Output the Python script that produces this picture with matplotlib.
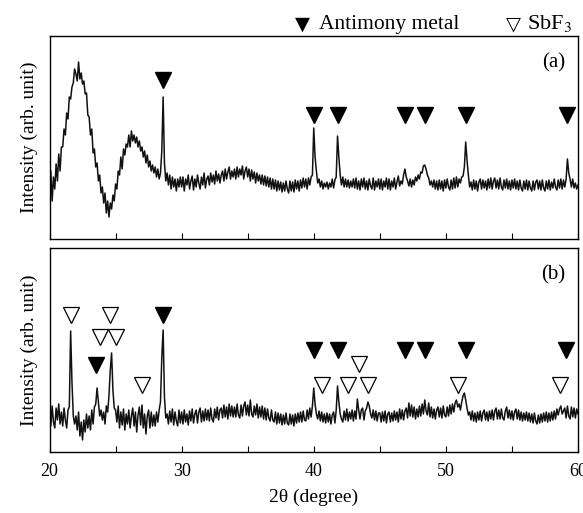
import numpy as np
import matplotlib
matplotlib.use("Agg")
import matplotlib.pyplot as plt

plt.rcParams['font.family'] = ['Liberation Serif', 'DejaVu Sans']
plt.rcParams['mathtext.fontset'] = 'stix'

# 2-theta grid (degrees), 0.1 degree steps from 20 to 60
two_theta = np.linspace(20, 60, 401)

# Panel (a) intensity (arb. unit)
intensity_a = [
    45, 68, 38, 62, 50, 75, 58, 85, 68, 92,
    92, 110, 104, 126, 120, 142, 140, 152, 156, 170,
    165, 158, 177, 160, 166, 155, 158, 145, 146, 124,
    122, 104, 110, 86, 90, 72, 76, 58, 64, 46,
    52, 36, 46, 26, 38, 22, 36, 30, 44, 38,
    55, 50, 68, 64, 82, 70, 90, 84, 95, 92,
    104, 92, 108, 98, 104, 96, 102, 92, 98, 88,
    92, 82, 88, 76, 84, 72, 78, 68, 74, 66,
    72, 62, 70, 60, 66, 88, 142, 76, 58, 66,
    54, 64, 50, 62, 52, 60, 48, 60, 52, 62,
    52, 62, 48, 60, 54, 64, 50, 58, 63, 49,
    60, 52, 64, 56, 50, 62, 54, 66, 51, 60,
    63, 54, 66, 57, 64, 55, 68, 58, 65, 56,
    64, 68, 58, 70, 60, 67, 72, 60, 68, 62,
    70, 60, 72, 62, 70, 64, 73, 60, 68, 72,
    62, 70, 58, 69, 60, 67, 56, 66, 58, 64,
    55, 64, 54, 63, 53, 62, 52, 61, 50, 60,
    50, 59, 48, 58, 49, 57, 47, 56, 48, 58,
    50, 46, 58, 48, 57, 47, 59, 50, 58, 48,
    59, 51, 61, 52, 60, 50, 61, 54, 62, 64,
    111, 82, 68, 56, 60, 52, 58, 50, 56, 52,
    57, 50, 56, 52, 60, 51, 59, 62, 103, 82,
    64, 54, 62, 52, 60, 52, 59, 51, 58, 52,
    60, 51, 61, 50, 58, 49, 60, 52, 61, 50,
    58, 49, 60, 53, 50, 61, 49, 58, 52, 60,
    50, 60, 49, 58, 52, 61, 50, 60, 49, 58,
    52, 61, 50, 57, 63, 53, 58, 55, 64, 70,
    62, 58, 53, 60, 52, 59, 54, 62, 58, 64,
    60, 67, 66, 73, 74, 70, 64, 61, 54, 58,
    52, 59, 50, 58, 49, 59, 50, 58, 48, 59,
    51, 60, 52, 49, 59, 50, 61, 51, 62, 52,
    60, 56, 62, 63, 72, 97, 79, 64, 52, 57,
    49, 59, 50, 58, 48, 57, 60, 50, 59, 51,
    58, 49, 60, 51, 61, 50, 58, 61, 51, 59,
    50, 61, 52, 49, 59, 51, 60, 50, 58, 49,
    59, 51, 60, 50, 58, 49, 59, 51, 48, 58,
    50, 59, 49, 58, 51, 48, 58, 49, 57, 59,
    50, 58, 49, 59, 51, 48, 58, 50, 59, 49,
    57, 51, 60, 52, 49, 59, 51, 60, 50, 59,
    52, 60, 80, 66, 60, 52, 60, 51, 56, 50,
    54,
]

# Panel (b) intensity (arb. unit)
intensity_b = [
    40, 26, 46, 30, 24, 44, 32, 48, 28, 40,
    26, 44, 32, 24, 42, 45, 121, 70, 36, 28,
    36, 22, 40, 16, 30, 12, 32, 20, 38, 24,
    36, 22, 42, 28, 45, 48, 64, 50, 36, 42,
    32, 40, 28, 46, 40, 56, 82, 99, 62, 44,
    42, 30, 46, 24, 40, 27, 43, 22, 38, 28,
    42, 24, 36, 44, 26, 40, 20, 37, 45, 27,
    47, 24, 38, 18, 36, 42, 24, 40, 26, 37,
    26, 40, 30, 42, 50, 95, 122, 55, 34, 38,
    28, 41, 30, 43, 27, 40, 31, 26, 42, 29,
    40, 28, 42, 30, 38, 27, 41, 31, 43, 29,
    38, 42, 29, 40, 44, 30, 41, 31, 43, 32,
    42, 31, 44, 33, 30, 43, 34, 45, 32, 42,
    44, 34, 47, 35, 45, 33, 48, 36, 46, 35,
    45, 35, 48, 37, 34, 47, 36, 46, 50, 37,
    47, 36, 52, 38, 35, 46, 37, 48, 34, 45,
    35, 46, 33, 44, 32, 43, 34, 31, 42, 32,
    30, 40, 28, 39, 29, 38, 27, 37, 28, 39,
    29, 27, 38, 28, 37, 26, 38, 29, 39, 30,
    40, 30, 41, 32, 31, 42, 33, 44, 35, 46,
    64, 48, 38, 33, 41, 31, 40, 30, 38, 29,
    39, 30, 38, 28, 37, 40, 29, 42, 66, 50,
    38, 33, 30, 41, 32, 43, 31, 40, 33, 42,
    31, 41, 33, 53, 42, 33, 42, 44, 32, 41,
    44, 50, 46, 38, 34, 42, 32, 41, 31, 39,
    39, 30, 40, 31, 41, 29, 38, 40, 30, 39,
    31, 41, 32, 40, 30, 43, 33, 42, 32, 41,
    44, 34, 49, 36, 47, 35, 45, 33, 43, 35,
    46, 36, 48, 38, 52, 41, 37, 49, 35, 45,
    34, 43, 33, 42, 45, 35, 44, 34, 46, 37,
    35, 45, 36, 47, 38, 48, 40, 49, 52, 45,
    48, 42, 50, 56, 59, 52, 44, 37, 40, 32,
    41, 31, 39, 30, 40, 32, 41, 31, 39, 42,
    32, 40, 31, 41, 33, 42, 32, 41, 44, 33,
    42, 33, 43, 34, 32, 41, 45, 34, 42, 33,
    41, 32, 40, 43, 33, 42, 32, 40, 31, 39,
    32, 40, 31, 39, 30, 38, 29, 39, 31, 28,
    37, 29, 38, 30, 39, 31, 40, 30, 39, 31,
    40, 32, 41, 33, 43, 37, 43, 46, 38, 41,
    44, 34, 46, 36, 33, 45, 35, 44, 34, 43,
    38,
]

# Peak markers: Antimony metal (filled) and SbF3 (open)
sb_a_x = [28.6, 40.0, 41.8, 46.9, 48.4, 51.5, 59.2]
sb_a_y = [159, 124, 124, 124, 124, 124, 124]

sb_b_x = [23.5, 28.6, 40.0, 41.8, 46.9, 48.4, 51.5, 59.1]
sb_b_y = [87, 137, 102, 102, 102, 102, 102, 102]

sbf3_b_x = [21.6, 24.6, 23.8, 25.0, 27.0, 40.6, 42.6, 43.4, 44.1, 50.9, 58.6]
sbf3_b_y = [137, 137, 115, 115, 67, 67, 67, 88, 67, 67, 67]

xticks_major = [20, 30, 40, 50, 60]
xticks_minor = [25, 35, 45, 55]

W, H = 583, 513
fig = plt.figure(figsize=(W / 100, H / 100), dpi=100)

left = 49.5 / W
width = (578 - 49.5) / W
ax_a = fig.add_axes([left, 1 - 239 / H, width, 203 / H])
ax_b = fig.add_axes([left, 1 - 452 / H, width, 204 / H])

ms = 11.5
for ax, y, panel in [(ax_a, intensity_a, '(a)'), (ax_b, intensity_b, '(b)')]:
    ax.plot(two_theta, y, color='#111111', lw=1.1)
    ax.set_xlim(20, 60)
    ax.set_xticks(xticks_major)
    ax.set_xticks(xticks_minor, minor=True)
    ax.tick_params(axis='x', which='both', direction='in', length=4, width=0.8,
                   top=False, labelsize=13, pad=8)
    ax.set_yticks([])
    ax.set_ylabel('Intensity (arb. unit)', fontsize=14, labelpad=8)
    for s in ax.spines.values():
        s.set_linewidth(1.0)
    ax.text(0.975, 0.87, panel, transform=ax.transAxes, ha='right', va='center',
            fontsize=15)

ax_a.set_ylim(0, 203)
ax_b.set_ylim(0, 204)
ax_a.tick_params(axis='x', labelbottom=False)
ax_b.set_xlabel('2θ (degree)', fontsize=14, labelpad=6)

ax_a.plot(sb_a_x, sb_a_y, 'v', ms=ms, color='black', clip_on=False)
ax_b.plot(sb_b_x, sb_b_y, 'v', ms=ms, color='black', clip_on=False)
ax_b.plot(sbf3_b_x, sbf3_b_y, 'v', ms=ms, mfc='white', mec='black', mew=0.9,
          clip_on=False)

# legend line on top
fig.text(302 / W, 1 - 24 / H, '▼', ha='center', va='center', fontsize=14,
         family=['DejaVu Sans'])
fig.text(319 / W, 1 - 24 / H, 'Antimony metal', ha='left', va='center', fontsize=15.5)
fig.text(513 / W, 1 - 24 / H, '▽', ha='center', va='center', fontsize=14,
         family=['DejaVu Sans'])
fig.text(527 / W, 1 - 24 / H, r'SbF$_3$', ha='left', va='center', fontsize=16)

fig.savefig('out.png', dpi=100)
